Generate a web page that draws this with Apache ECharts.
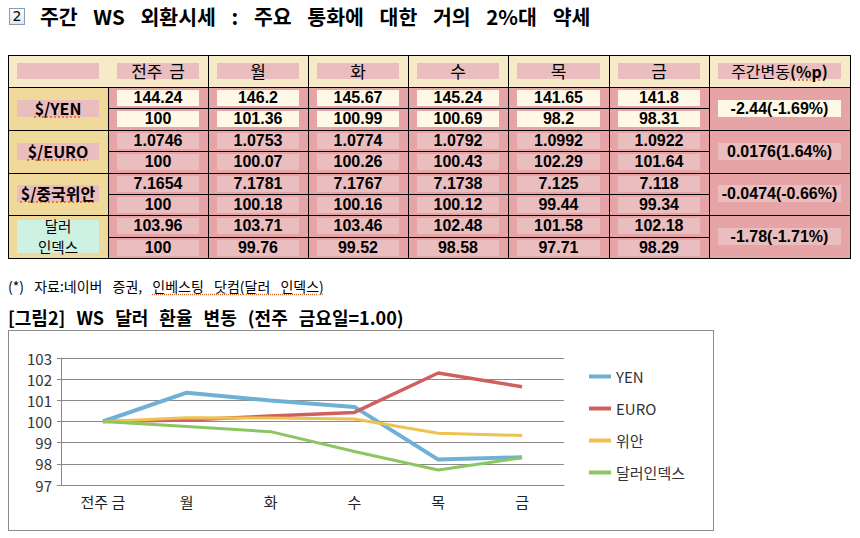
<!DOCTYPE html>
<html><head><meta charset="utf-8">
<script src="https://cdn.jsdelivr.net/npm/echarts@6/dist/echarts.min.js"></script>
<style>
html,body{margin:0;padding:0;}
body{width:860px;height:538px;background:#fff;position:relative;overflow:hidden;font-family:"Noto Sans CJK KR","Noto Sans",sans-serif;color:#000;}
.a{position:absolute;box-sizing:border-box;}
.t{display:flex;align-items:center;justify-content:center;white-space:nowrap;}
.n{font-family:"Liberation Sans",Arial,sans-serif;font-weight:bold;font-size:16px;line-height:16px;}
.sq{text-decoration:underline dotted #E0662A;text-underline-offset:2px;}
</style>
</head><body>
<div class="a" style="left:9px;top:8px;width:16px;height:17px;border:1px solid #8a9bb0;background:linear-gradient(#ffffff,#dfe6ee);font-size:14px;line-height:15px;text-align:center;font-family:'DejaVu Sans';">2</div>
<div class="a" id="title" style="left:40px;top:3px;font-size:20.5px;font-weight:bold;white-space:nowrap;word-spacing:11px;line-height:26px;">주간 WS 외환시세 : 주요 통화에 대한 거의 2%대 약세</div>
<div id="tbl"></div>
<div class="a" style="left:8px;top:277px;font-size:14px;white-space:nowrap;line-height:19px;word-spacing:7px;">(*) 자료:네이버 증권, <span class="sq">인베스팅 닷컴(달러 인덱스)</span></div>
<div class="a" style="left:8px;top:305px;font-size:18px;font-weight:bold;white-space:nowrap;line-height:25px;word-spacing:7px;">[그림2] WS 달러 환율 변동 (전주 금요일=1.00)</div>
<div class="a" style="left:8px;top:330px;width:706px;height:201px;border:1px solid #8c8c8c;"></div>
<div class="a" id="chart" style="left:9px;top:331px;width:704px;height:199px;"></div>
<script>
// ---- data ----
const days = ['전주 금','월','화','수','목','금'];
const rowLabels = ['$/YEN','$/EURO','$/중국위안'];
const dxyLabel = ['달러','인덱스'];
const rawYEN = ['144.24','146.2','145.67','145.24','141.65','141.8'];
const rawEURO = ['1.0746','1.0753','1.0774','1.0792','1.0992','1.0922'];
const rawCNY = ['7.1654','7.1781','7.1767','7.1738','7.125','7.118'];
const rawDXY = ['103.96','103.71','103.46','102.48','101.58','102.18'];
const YEN = [100,101.36,100.99,100.69,98.2,98.31];
const EURO = [100,100.07,100.26,100.43,102.29,101.64];
const CNY = [100,100.18,100.16,100.12,99.44,99.34];
const DXY = [100,99.76,99.52,98.58,97.71,98.29];
const changes = ['-2.44(-1.69%)','0.0176(1.64%)','-0.0474(-0.66%)','-1.78(-1.71%)'];
const seriesNames = ['YEN','EURO','위안','달러인덱스'];
const yTicks = [97,98,99,100,101,102,103];

// ---- table ----
const tbl = document.getElementById('tbl');
function box(x,y,w,h,bg,html,style,cls){
  const d=document.createElement('div');
  d.className='a'+(html!==undefined?' t':'')+(cls?' '+cls:'');
  d.style.cssText=`left:${x}px;top:${y}px;width:${w}px;height:${h}px;`+(bg?`background:${bg};`:'')+(style||'');
  if(html!==undefined) d.innerHTML=html;
  tbl.appendChild(d); return d;
}
const colX=[8,108,208,308,408,508,609,709,850];
const top0=55, hdrB=87, bot=258;
const rh=(bot-hdrB)/8;
const rowY=i=>hdrB+i*rh;
const pinkBox='#EABDBF', cream='#FFF8E6';
box(8,top0,842,hdrB-top0,'#F7EAC9');
box(8,hdrB,100,bot-hdrB,'#EFDA9C');
box(108,hdrB,742,bot-hdrB,'#E6A4A6');
// header boxes
box(17,63,82,16,pinkBox);
days.forEach((d,i)=>{
  const x=colX[i+1]+9,w=colX[i+2]-colX[i+1]-18;
  box(x,63,w,16,pinkBox,d,'font-size:17px;line-height:16px;word-spacing:3px;');
});
box(718,63,123,16,pinkBox,'주간변동<span class="sq" style="font-weight:bold">(%p)</span>','font-size:16px;line-height:16px;');
const raws=[rawYEN,rawEURO,rawCNY,rawDXY], idx=[YEN,EURO,CNY,DXY];
for(let g=0;g<4;g++){
  for(let s=0;s<2;s++){
    const arr = s===0?raws[g]:idx[g];
    const y=rowY(g*2+s);
    for(let i=0;i<6;i++){
      const x=colX[i+1]+9,w=colX[i+2]-colX[i+1]-18;
      box(x,Math.round(y+3),w,16,g===0?cream:pinkBox,String(arr[i]),'','n');
    }
  }
  const gy=rowY(g*2), gh=rh*2;
  if(g<3){
    box(17,Math.round(gy+gh/2-8.5),82,17,pinkBox,`<span class="sq">${rowLabels[g]}</span>`,'font-size:16px;font-weight:bold;line-height:17px;');
  } else {
    box(17,220,82,33,'#CDF1E3');
    box(17,216,82,20,null,dxyLabel[0],'font-size:14.5px;line-height:20px;');
    box(17,236.5,82,20,null,dxyLabel[1],'font-size:14.5px;line-height:20px;');
  }
  box(718,Math.round(gy+gh/2-8.5),123,17,g===0?cream:pinkBox,changes[g],'line-height:17px;','n');
}
// grid lines
const ln=(x,y,w,h)=>box(x,y,w,h,'#000');
[208,308,408,508,609,709].forEach(x=>ln(x,top0,1,bot-top0));
ln(108,hdrB,1,bot-hdrB);
ln(8,hdrB,842,1);
[2,4,6].forEach(i=>ln(8,Math.round(rowY(i)),842,1));
[1,3,5,7].forEach(i=>ln(108,Math.round(rowY(i)),601,1));
box(8,top0,843,bot-top0+1,null,undefined,'border:1.5px solid #000;');

// ---- chart ----
const chart = echarts.init(document.getElementById('chart'), null, {renderer:'svg'});
const colors=['#70B0D4','#D0605E','#EEC24E','#8CC662'];
const widths=[4,3.5,3,3];
chart.setOption({
  animation:false,
  color:colors,
  textStyle:{fontFamily:'"Noto Sans CJK KR","Noto Sans",sans-serif'},
  grid:{left:52,right:149,top:27,bottom:45},
  legend:{
    orient:'vertical',left:575,top:33,icon:'rect',itemWidth:22,itemHeight:4,itemGap:17,
    textStyle:{fontSize:15,color:'#333'},
    data:seriesNames
  },
  xAxis:{
    type:'category',data:days,boundaryGap:true,
    axisLine:{lineStyle:{color:'#888'}},axisTick:{show:false},
    axisLabel:{fontSize:15,color:'#222',margin:9}
  },
  yAxis:{
    type:'value',min:yTicks[0],max:yTicks[yTicks.length-1],interval:1,
    axisLine:{show:true,lineStyle:{color:'#888'}},
    axisTick:{show:true,length:4,lineStyle:{color:'#888'}},
    axisLabel:{fontSize:15,color:'#333',margin:9},
    splitLine:{lineStyle:{color:'#8a8a8a',width:1}}
  },
  series:[YEN,EURO,CNY,DXY].map((d,i)=>({
    name:seriesNames[i],type:'line',data:d,symbol:'none',
    lineStyle:{width:widths[i]}
  }))
});
</script>
</body></html>
